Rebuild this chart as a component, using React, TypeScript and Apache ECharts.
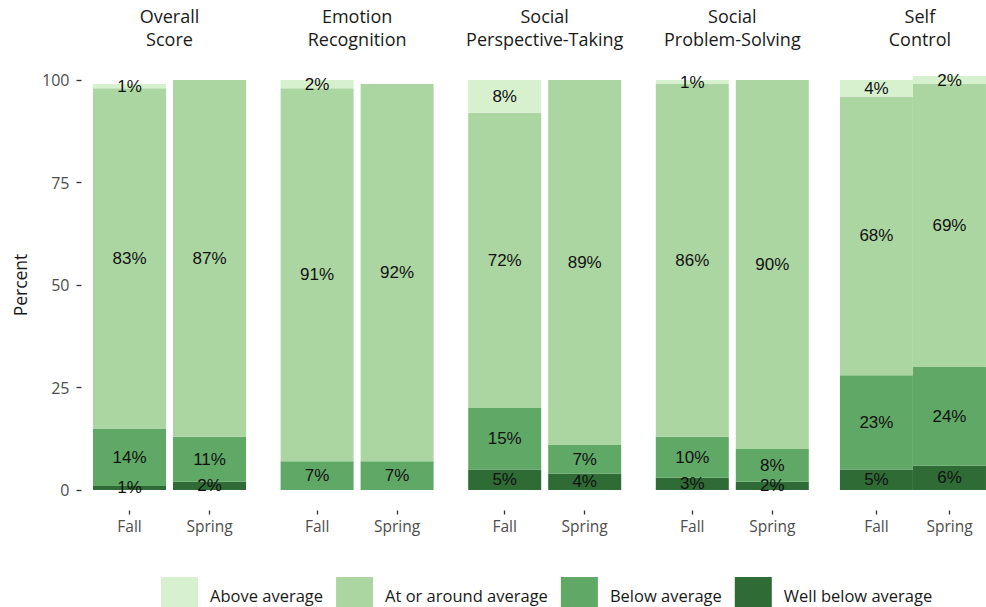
import React, { useEffect, useRef } from "react";
import * as echarts from "echarts";

const panelLine1 = ["Overall", "Emotion", "Social", "Social", "Self"];
const panelLine2 = ["Score", "Recognition", "Perspective-Taking", "Problem-Solving", "Control"];
const terms = ["Fall", "Spring"];
const levelNames = ["Well below average", "Below average", "At or around average", "Above average"];
const levelColors = ["#2e6b35", "#60a866", "#acd6a1", "#d7f0ce"];
const wellBelow = [[1, 2], [0, 0], [5, 4], [3, 2], [5, 6]];
const below = [[14, 11], [7, 7], [15, 7], [10, 8], [23, 24]];
const atAround = [[83, 87], [91, 92], [72, 89], [86, 90], [68, 69]];
const above = [[1, 0], [2, 0], [8, 0], [1, 0], [4, 2]];
const legendOrder = ["Above average", "At or around average", "Below average", "Well below average"];

const FONT = "'Open Sans', 'Noto Sans', sans-serif";
const LABEL_FONT = "'Liberation Sans', Arial, sans-serif";

export default function App() {
  const ref = useRef<HTMLDivElement>(null);
  useEffect(() => {
    if (!ref.current) return;
    const chart = echarts.init(ref.current, null, { renderer: "svg" });
    const levels = [wellBelow, below, atAround, above];
    const panelStep = 187.6;
    const firstLeft = 89.5;
    const grids = panelLine1.map((_, i) => ({
      left: firstLeft + panelStep * i,
      width: 160,
      top: 80,
      height: 410,
    }));
    const xAxes = panelLine1.map((_, i) => ({
      type: "category",
      gridIndex: i,
      data: terms,
      position: "bottom",
      offset: 20.5,
      axisLine: { show: true, onZero: false, lineStyle: { color: "rgba(0,0,0,0)" } },
      axisTick: { show: true, alignWithLabel: true, length: 4, lineStyle: { color: "#333", width: 1.3 } },
      axisLabel: { color: "#4d4d4d", fontSize: 15.5, fontFamily: FONT, margin: 7 },
    }));
    const yAxes = panelLine1.map((_, i) => ({
      type: "value",
      gridIndex: i,
      min: 0,
      max: 100,
      interval: 25,
      show: i === 0,
      offset: 8,
      splitLine: { show: false },
      axisLine: { show: false },
      axisTick: { show: i === 0, length: 5, lineStyle: { color: "#333", width: 1.3 } },
      axisLabel: { show: i === 0, color: "#4d4d4d", fontSize: 16, fontFamily: FONT, margin: 12 },
      name: i === 0 ? "Percent" : "",
      nameLocation: "middle",
      nameGap: 53,
      nameTextStyle: { fontSize: 17.5, color: "#1a1a1a", fontFamily: FONT },
    }));
    const series: any[] = [];
    panelLine1.forEach((_, i) => {
      levels.forEach((lv, k) => {
        series.push({
          type: "bar",
          name: levelNames[k],
          xAxisIndex: i,
          yAxisIndex: i,
          stack: "s" + i,
          barWidth: 73,
          clip: false,
          itemStyle: { color: levelColors[k] },
          label: {
            show: true,
            position: "inside",
            fontFamily: LABEL_FONT,
            fontSize: 17,
            color: "#111",
            formatter: (p: any) => (p.value > 0 ? p.value + "%" : ""),
          },
          data: lv[i],
        });
      });
    });
    const graphics: any[] = [];
    panelLine1.forEach((t, i) => {
      const cx = firstLeft + panelStep * i + 80;
      [t, panelLine2[i]].forEach((line, j) => {
        graphics.push({
          type: "text",
          x: cx,
          y: 15.5 + j * 23,
          style: {
            text: line,
            fontSize: 18,
            lineHeight: 20,
            fontFamily: FONT,
            fill: "#1a1a1a",
            textAlign: "center",
            textVerticalAlign: "middle",
          },
        });
      });
    });
    chart.setOption({
      animation: false,
      backgroundColor: "#fff",
      grid: grids,
      xAxis: xAxes,
      yAxis: yAxes,
      series,
      graphic: graphics,
      legend: {
        data: legendOrder,
        left: 156,
        top: 572,
        orient: "horizontal",
        icon: "rect",
        itemWidth: 37,
        itemHeight: 37,
        itemGap: 13,
        textStyle: { fontSize: 16.5, color: "#1a1a1a", fontFamily: FONT, padding: [0, 0, 0, 7] },
        selectedMode: false,
      },
    });
    return () => chart.dispose();
  }, []);
  return <div ref={ref} style={{ position: "absolute", left: 0, top: 0, width: 986, height: 607 }} />;
}
